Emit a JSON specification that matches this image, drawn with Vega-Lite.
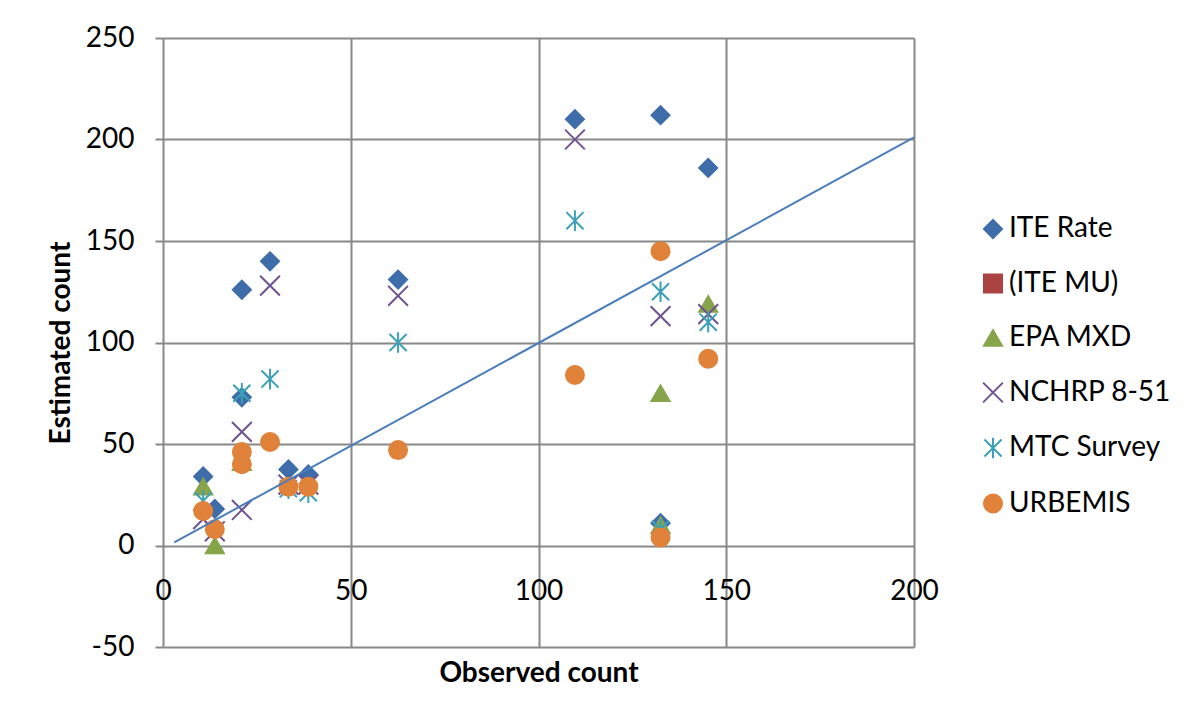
{
  "$schema": "https://vega.github.io/schema/vega-lite/v6.json",
  "width": 751,
  "height": 609,
  "autosize": {"type": "none"},
  "padding": {"left": 163, "top": 38, "right": 277, "bottom": 76},
  "background": "white",
  "config": {
    "font": "Lato",
    "view": {"stroke": null},
    "axis": {
      "domain": false,
      "grid": true,
      "gridColor": "#888888",
      "gridWidth": 2,
      "gridOpacity": 1,
      "labelFont": "Lato",
      "labelFontSize": 28,
      "labelColor": "#000000",
      "titleFont": "Lato",
      "titleFontSize": 28,
      "titleFontWeight": "bold",
      "titleColor": "#000000",
      "labelOverlap": false,
      "labelBound": false,
      "labelFlush": false
    },
    "legend": {
      "labelFont": "Lato",
      "labelFontSize": 28,
      "labelColor": "#000000",
      "labelLimit": 400,
      "symbolSize": 324,
      "symbolStrokeWidth": 2,
      "rowPadding": 26.5,
      "labelOffset": 2,
      "padding": 0
    }
  },
  "datasets": {
    "sites": [
      {"series": "ITE Rate", "observed": 10.7, "estimated": 34},
      {"series": "ITE Rate", "observed": 13.8, "estimated": 18},
      {"series": "ITE Rate", "observed": 21, "estimated": 126},
      {"series": "ITE Rate", "observed": 21, "estimated": 73},
      {"series": "ITE Rate", "observed": 28.5, "estimated": 140},
      {"series": "ITE Rate", "observed": 33.4, "estimated": 37.5},
      {"series": "ITE Rate", "observed": 38.7, "estimated": 35},
      {"series": "ITE Rate", "observed": 62.6, "estimated": 131},
      {"series": "ITE Rate", "observed": 109.7, "estimated": 210},
      {"series": "ITE Rate", "observed": 132.5, "estimated": 212},
      {"series": "ITE Rate", "observed": 145.2, "estimated": 186},
      {"series": "ITE Rate", "observed": 132.5, "estimated": 11},
      {"series": "EPA MXD", "observed": 10.7, "estimated": 29},
      {"series": "EPA MXD", "observed": 13.8, "estimated": 0},
      {"series": "EPA MXD", "observed": 21, "estimated": 41},
      {"series": "EPA MXD", "observed": 132.5, "estimated": 75},
      {"series": "EPA MXD", "observed": 145.2, "estimated": 119},
      {"series": "EPA MXD", "observed": 132.5, "estimated": 10},
      {"series": "NCHRP 8-51", "observed": 10.7, "estimated": 13},
      {"series": "NCHRP 8-51", "observed": 13.8, "estimated": 7},
      {"series": "NCHRP 8-51", "observed": 21, "estimated": 56},
      {"series": "NCHRP 8-51", "observed": 21, "estimated": 17.5},
      {"series": "NCHRP 8-51", "observed": 28.5, "estimated": 128},
      {"series": "NCHRP 8-51", "observed": 33.4, "estimated": 30},
      {"series": "NCHRP 8-51", "observed": 38.7, "estimated": 30},
      {"series": "NCHRP 8-51", "observed": 62.6, "estimated": 123},
      {"series": "NCHRP 8-51", "observed": 109.7, "estimated": 200},
      {"series": "NCHRP 8-51", "observed": 132.5, "estimated": 113},
      {"series": "NCHRP 8-51", "observed": 145.2, "estimated": 114},
      {"series": "MTC Survey", "observed": 10.7, "estimated": 22},
      {"series": "MTC Survey", "observed": 21, "estimated": 75},
      {"series": "MTC Survey", "observed": 28.5, "estimated": 82},
      {"series": "MTC Survey", "observed": 33.4, "estimated": 28},
      {"series": "MTC Survey", "observed": 38.7, "estimated": 26},
      {"series": "MTC Survey", "observed": 62.6, "estimated": 100},
      {"series": "MTC Survey", "observed": 109.7, "estimated": 160},
      {"series": "MTC Survey", "observed": 132.5, "estimated": 125},
      {"series": "MTC Survey", "observed": 145.2, "estimated": 110},
      {"series": "MTC Survey", "observed": 132.5, "estimated": 8},
      {"series": "URBEMIS", "observed": 10.7, "estimated": 17},
      {"series": "URBEMIS", "observed": 13.8, "estimated": 8},
      {"series": "URBEMIS", "observed": 21, "estimated": 46},
      {"series": "URBEMIS", "observed": 21, "estimated": 40},
      {"series": "URBEMIS", "observed": 28.5, "estimated": 51},
      {"series": "URBEMIS", "observed": 33.4, "estimated": 29},
      {"series": "URBEMIS", "observed": 38.7, "estimated": 29},
      {"series": "URBEMIS", "observed": 62.6, "estimated": 47},
      {"series": "URBEMIS", "observed": 109.7, "estimated": 84},
      {"series": "URBEMIS", "observed": 132.5, "estimated": 145},
      {"series": "URBEMIS", "observed": 145.2, "estimated": 92},
      {"series": "URBEMIS", "observed": 132.5, "estimated": 4}
    ],
    "parity": [
      {"observed": 3, "estimated": 1.5},
      {"observed": 200, "estimated": 201}
    ]
  },
  "layer": [
    {
      "data": {"name": "sites"},
      "mark": {"type": "point", "filled": true, "opacity": 1, "strokeWidth": 2, "size": 324},
      "encoding": {
        "x": {
          "field": "observed",
          "type": "quantitative",
          "scale": {"domain": [0, 200], "nice": false, "zero": false},
          "axis": {
            "title": "Observed count",
            "values": [0, 50, 100, 150, 200],
            "offset": -101.5,
            "ticks": false,
            "tickSize": 0,
            "labelPadding": 32,
            "titlePadding": 54,
            "labelExpr": "'' + datum.value"
          }
        },
        "y": {
          "field": "estimated",
          "type": "quantitative",
          "scale": {"domain": [-50, 250], "nice": false, "zero": false},
          "axis": {
            "title": "Estimated count",
            "values": [-50, 0, 50, 100, 150, 200, 250],
            "ticks": true,
            "tickSize": 8,
            "tickColor": "#888888",
            "tickWidth": 2,
            "labelPadding": 21,
            "titlePadding": 10,
            "labelExpr": "'' + datum.value"
          }
        },
        "fill": {
          "field": "series",
          "type": "nominal",
          "title": null,
          "scale": {
            "domain": ["ITE Rate", "(ITE MU)", "EPA MXD", "NCHRP 8-51", "MTC Survey", "URBEMIS"],
            "range": ["#3E6DAA", "#AA4341", "#86A44A", "#6E5390", "#3BA0B8", "#E0823A"]
          },
          "legend": {"orient": "none", "legendX": 816, "legendY": 177}
        },
        "stroke": {
          "field": "series",
          "type": "nominal",
          "title": null,
          "scale": {
            "domain": ["ITE Rate", "(ITE MU)", "EPA MXD", "NCHRP 8-51", "MTC Survey", "URBEMIS"],
            "range": ["#3E6DAA", "#AA4341", "#86A44A", "#6E5390", "#3BA0B8", "#E0823A"]
          },
          "legend": {"orient": "none", "legendX": 816, "legendY": 177}
        },
        "shape": {
          "field": "series",
          "type": "nominal",
          "title": null,
          "scale": {
            "domain": ["ITE Rate", "(ITE MU)", "EPA MXD", "NCHRP 8-51", "MTC Survey", "URBEMIS"],
            "range": [
              "diamond",
              "square",
              "triangle-up",
              "M-1.1,-1.1L1.1,1.1M-1.1,1.1L1.1,-1.1",
              "M-0.95,-0.95L0.95,0.95M-0.95,0.95L0.95,-0.95M0,-1.15L0,1.15",
              "circle"
            ]
          },
          "legend": {"orient": "none", "legendX": 816, "legendY": 177}
        }
      }
    },
    {
      "data": {"name": "parity"},
      "mark": {"type": "line", "color": "#4A7EBB", "strokeWidth": 2},
      "encoding": {
        "x": {"field": "observed", "type": "quantitative"},
        "y": {"field": "estimated", "type": "quantitative"}
      }
    }
  ]
}
